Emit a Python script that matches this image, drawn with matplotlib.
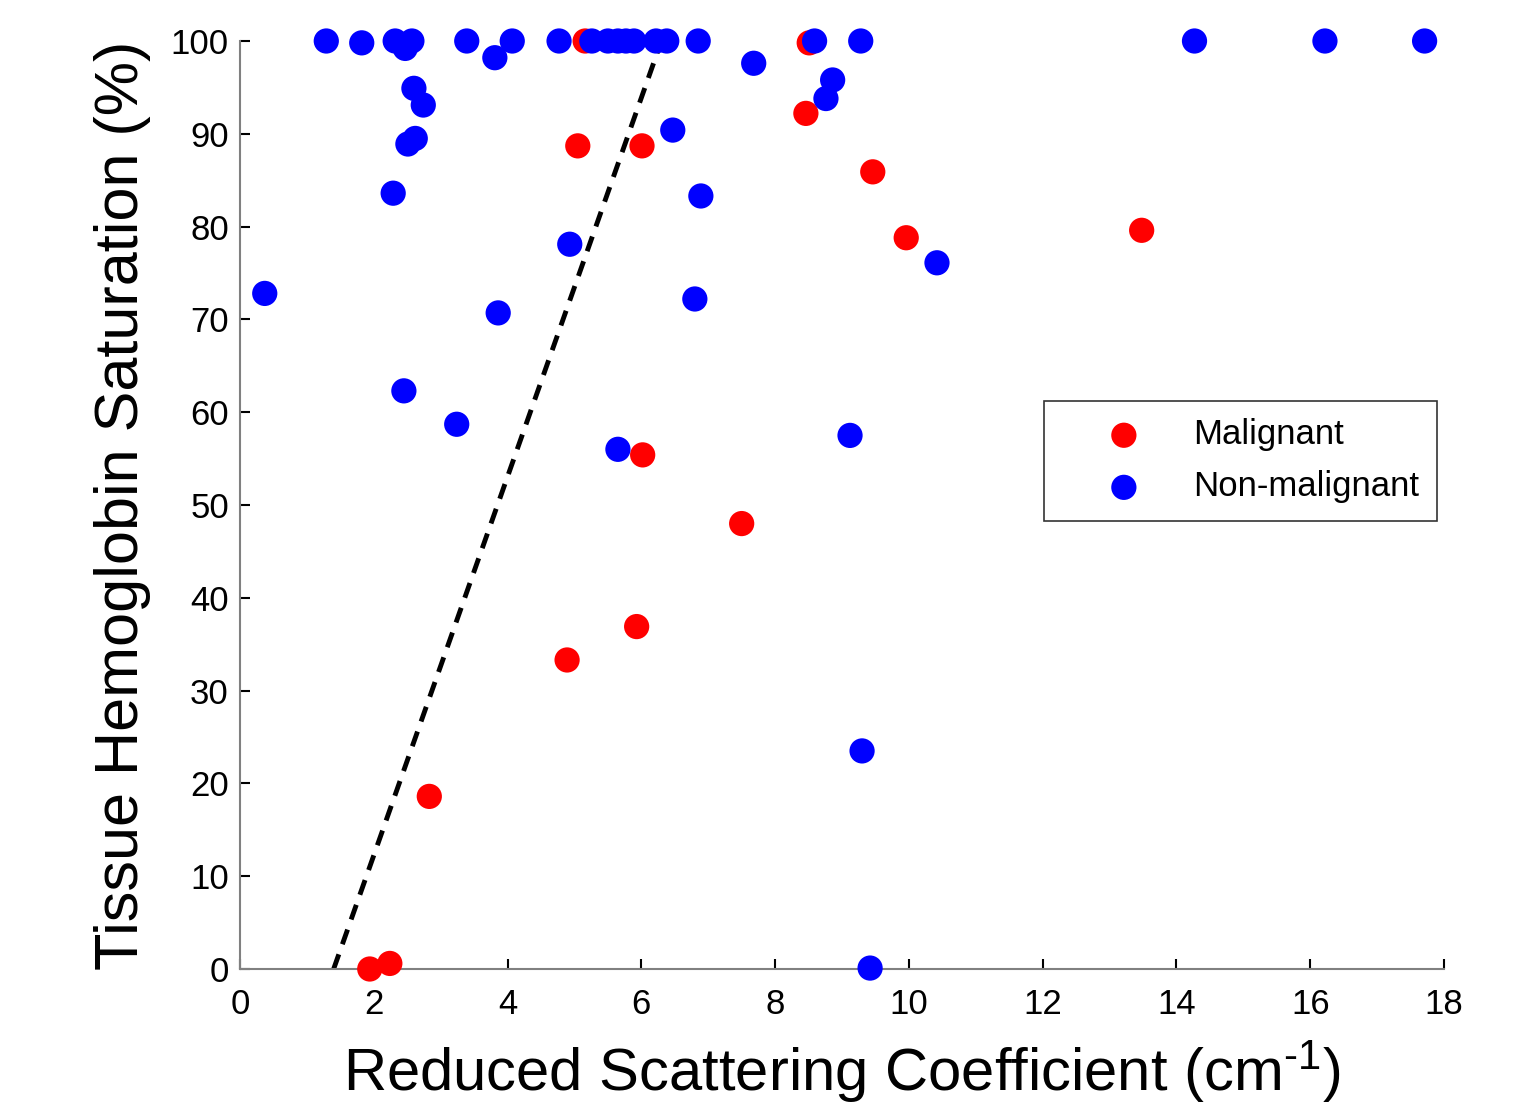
import matplotlib
matplotlib.use("Agg")
import matplotlib.pyplot as plt

plt.rcParams['font.family'] = ['Liberation Sans', 'DejaVu Sans']
plt.rcParams['mathtext.fontset'] = 'custom'
plt.rcParams['mathtext.rm'] = 'Liberation Sans'
plt.rcParams['mathtext.it'] = 'Liberation Sans'

# malignant lesions
mal_x = [1.94, 2.24, 2.83, 4.89, 5.05, 5.16, 5.93, 6.01, 6.02, 7.50, 8.46, 8.51, 9.46, 9.96, 13.48]
mal_y = [0.0, 0.6, 18.6, 33.3, 88.7, 100, 36.9, 88.7, 55.4, 48.0, 92.2, 99.8, 85.9, 78.8, 79.6]

# non-malignant lesions
non_x = [0.37, 1.29, 1.82, 2.32, 2.47, 2.57, 2.60, 2.74, 2.62, 2.51, 2.29, 2.45,
         3.39, 3.81, 4.07, 3.86, 3.24, 4.77, 4.93, 5.26, 5.50, 5.65, 5.77, 5.89,
         6.22, 6.38, 6.85, 6.47, 6.89, 6.80, 5.65, 7.68, 8.59, 8.86, 8.76, 9.28,
         9.12, 9.30, 9.42, 10.42, 14.27, 16.22, 17.71]
non_y = [72.8, 100, 99.8, 100, 99.2, 100, 94.9, 93.1, 89.5, 88.9, 83.6, 62.3,
         100, 98.2, 100, 70.7, 58.7, 100, 78.1, 100, 100, 100, 100, 100,
         100, 100, 100, 90.4, 83.3, 72.2, 56.0, 97.6, 100, 95.8, 93.8, 100,
         57.5, 23.5, 0.1, 76.1, 100, 100, 100]

# decision boundary
line_x = [1.4, 6.3]
line_y = [0, 100]

fig = plt.figure(figsize=(15.22, 11.07), dpi=100)
ax = fig.add_axes([240/1522, 1 - 969/1107, (1444 - 240)/1522, (969 - 41)/1107])

ax.plot(line_x, line_y, color='black', linestyle=(0, (3.2, 2.2)), linewidth=3.5, zorder=2)
ax.scatter(mal_x, mal_y, s=330, color='#ff0000', edgecolors='none', label='Malignant',
           zorder=3, clip_on=False)
ax.scatter(non_x, non_y, s=330, color='#0000ff', edgecolors='none', label='Non-malignant',
           zorder=4, clip_on=False)

ax.set_xlim(0, 18)
ax.set_ylim(0, 100)
ax.set_xticks(range(0, 19, 2))
ax.set_yticks(range(0, 101, 10))

for side in ['top', 'right']:
    ax.spines[side].set_visible(False)
for side in ['left', 'bottom']:
    ax.spines[side].set_color('#808080')
    ax.spines[side].set_linewidth(1.5)

ax.tick_params(axis='both', direction='in', length=7, width=1.5, color='black',
               labelsize=25)
ax.tick_params(axis='x', pad=14)
ax.tick_params(axis='y', pad=8)

ax.set_xlabel(r'Reduced Scattering Coefficient (cm$^{\text{-1}}$)', fontsize=43, labelpad=12)
ax.set_ylabel('Tissue Hemoglobin Saturation (%)', fontsize=44, labelpad=14)

leg = ax.legend(loc='upper left', bbox_to_anchor=((1044 - 240)/1204, (969 - 401)/928),
                fontsize=25, frameon=True, fancybox=False, edgecolor='black',
                borderpad=0.5, handlelength=3.6, handletextpad=0.2, markerscale=1,
                labelspacing=0.55, borderaxespad=0)
leg.get_frame().set_linewidth(1.2)

fig.savefig('out.png', dpi=100)
